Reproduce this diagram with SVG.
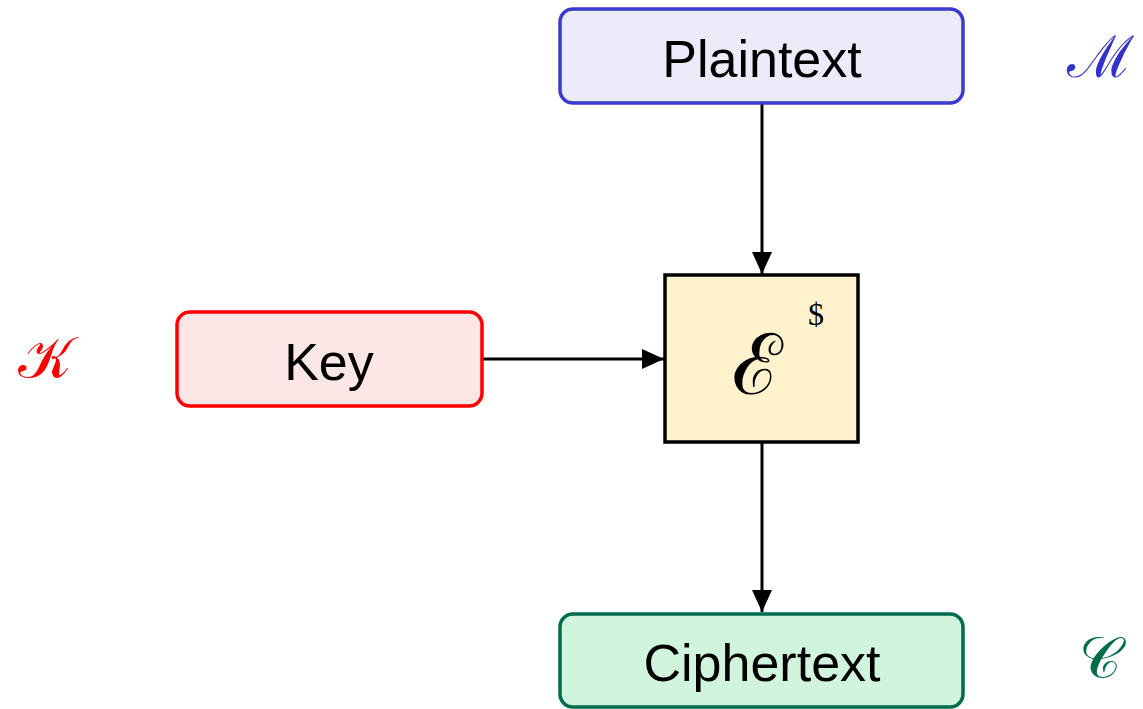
<svg xmlns="http://www.w3.org/2000/svg" width="1143" height="709" viewBox="0 0 1143 709">
<defs>
<marker id="arr" viewBox="0 0 22 20" refX="22" refY="10" markerWidth="22" markerHeight="20" markerUnits="userSpaceOnUse" orient="auto">
<path d="M0,0 L22,10 L0,20 z" fill="#000"/>
</marker>
<style>
.lbl{font-family:"Liberation Sans",Arial,sans-serif;font-size:52px;fill:#000;text-anchor:middle}
.math{font-family:"DejaVu Serif","Liberation Serif",serif;text-anchor:middle}
.conn{stroke:#000;stroke-width:3;fill:none}
</style>
</defs>
<rect width="1143" height="709" fill="#fff"/>
<g id="connectors">
<line class="conn" x1="762" y1="103" x2="762" y2="274" marker-end="url(#arr)"/>
<line class="conn" x1="482" y1="359" x2="664" y2="359" marker-end="url(#arr)"/>
<line class="conn" x1="762" y1="442" x2="762" y2="612" marker-end="url(#arr)"/>
</g>
<g id="plaintext">
<rect x="560" y="9" width="403" height="94" rx="13" fill="#ebebf9" stroke="#3a3acc" stroke-width="3.5"/>
<text class="lbl" x="762" y="77">Plaintext</text>
</g>
<g id="key">
<rect x="177" y="312" width="305" height="94" rx="13" fill="#fde6e6" stroke="#ff0000" stroke-width="3.5"/>
<text class="lbl" x="329" y="380">Key</text>
</g>
<g id="ciphertext">
<rect x="560" y="614" width="403" height="93" rx="13" fill="#d0f5dc" stroke="#006b4d" stroke-width="3.5"/>
<text class="lbl" x="762" y="681">Ciphertext</text>
</g>
<g id="encrypt">
<rect x="665" y="275" width="193" height="167" fill="#fff2cc" stroke="#000" stroke-width="3.5"/>
<text class="math" x="757" y="394" font-size="84">ℰ</text>
<text x="816" y="325" font-family="Liberation Serif,serif" font-size="32" text-anchor="middle">$</text>
</g>
<g id="labels">
<text class="math" x="1100" y="77" font-size="58" fill="#3333cc">ℳ</text>
<text class="math" x="45" y="378" font-size="58" fill="#ff0000">𝒦</text>
<text class="math" x="1100" y="678" font-size="58" fill="#006b4d">𝒞</text>
</g>
</svg>
